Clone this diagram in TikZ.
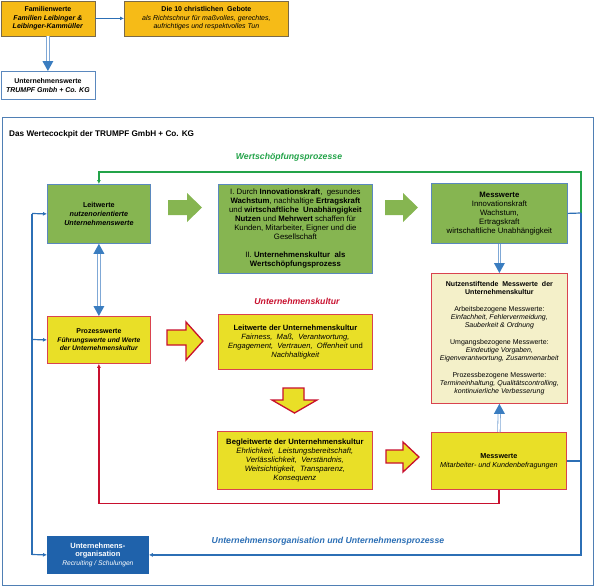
\documentclass[tikz,border=0pt]{standalone}
\usepackage{fontspec}
\setmainfont{Liberation Sans}
\usetikzlibrary{arrows.meta}
\definecolor{gfill}{HTML}{86B551}
\definecolor{yfill}{HTML}{E9DF27}
\definecolor{ofill}{HTML}{F6BB17}
\definecolor{cfill}{HTML}{F4F0C9}
\definecolor{ufill}{HTML}{1F62AB}
\definecolor{bline}{HTML}{2C6FB5}
\definecolor{frameblue}{HTML}{4F7FB4}
\definecolor{boxblue}{HTML}{5A88BE}
\definecolor{rline}{HTML}{C8102E}
\definecolor{rborder}{HTML}{D9434F}
\definecolor{gline}{HTML}{23A349}
\definecolor{darrow}{HTML}{3A7DC0}
\definecolor{lblue}{HTML}{7FA8D6}
\definecolor{gray1}{HTML}{7A6A4A}
\tikzset{
  basebox/.style={draw, line width=0.8pt, anchor=north west, inner sep=1pt, align=center,
    font=\fontsize{7}{8.4}\selectfont},
  gbox/.style={basebox, fill=gfill, draw=boxblue},
  ybox/.style={basebox, fill=yfill, draw=rborder},
  cbox/.style={basebox, fill=cfill, draw=rborder},
  obox/.style={basebox, fill=ofill, draw=gray1},
  wbox/.style={basebox, fill=white, draw=boxblue},
  ubox/.style={basebox, fill=ufill, draw=ufill, text=white},
  dblshaft/.style={draw=lblue, double=white, double distance=1.6pt, line width=0.8pt},
  dblhead/.style={fill=darrow},
  thinblue/.style={draw=bline, line width=1.2pt},
  tip/.style={-{Latex[length=4pt,width=4pt]}},
  garrow/.style={fill=gfill},
  yarrow/.style={fill=yfill, draw=rline, line width=1.3pt, line join=miter},
  heading/.style={font=\fontsize{8.7}{10}\selectfont\bfseries\itshape, inner sep=0pt},
}
\newcommand{\bi}[1]{\textbf{\textit{#1}}}
\newcommand{\smi}[1]{\textit{#1}}
\begin{document}
\begin{tikzpicture}[x=1pt,y=-1pt]
\useasboundingbox (0,0) rectangle (595,587);
% top part
\node[obox, minimum width=94pt, minimum height=35pt] (fw) at (0.5,0.5)
  {\textbf{Familienwerte}\\\bi{Familien Leibinger \&}\\\bi{Leibinger-Kammüller}};
\node[obox, minimum width=164pt, minimum height=35pt] (gb) at (124,0.5)
  {\textbf{Die 10 christlichen\ \ Gebote}\\\smi{als Richtschnur für maßvolles, gerechtes,}\\\smi{aufrichtiges und respektvolles Tun}};
\node[wbox, minimum width=94pt, minimum height=28pt] (uw) at (0.5,71)
  {\textbf{Unternehmenswerte}\\\bi{TRUMPF Gmbh + Co. KG}};
\draw[draw=bline, line width=0.9pt, tip] (fw.east) -- (gb.west);
\draw[dblshaft, shorten >=8pt] (fw.south) -- (uw.north);
\fill[dblhead] (uw.north) -- ++(-5.5,-10) -- ++(11,0) -- cycle;

% frame
\draw[frameblue, line width=1pt] (2,117) rectangle (593,585);
\node[anchor=west, inner sep=0pt, font=\fontsize{8.2}{9}\selectfont\bfseries] (title) at (9,134)
  {Das Wertecockpit der TRUMPF GmbH + Co. KG};

% boxes
\node[gbox, minimum width=103pt, minimum height=59pt, font=\fontsize{7.2}{8.6}\selectfont] (lw) at (47,184)
  {\textbf{Leitwerte}\\\bi{nutzenorientierte}\\\bi{Unternehmenswerte}};
\node[gbox, minimum width=154pt, minimum height=89pt, font=\fontsize{7.8}{9}\selectfont] (wz) at (218,184)
  {I. Durch \textbf{Innovationskraft},\ \ gesundes\\
   \textbf{Wachstum}, nachhaltige \textbf{Ertragskraft}\\
   und \textbf{wirtschaftliche\ \ Unabhängigkeit}\\
   \textbf{Nutzen} und \textbf{Mehrwert} schaffen für\\
   Kunden, Mitarbeiter, Eigner und die\\
   Gesellschaft\\[9pt]
   II. \textbf{Unternehmenskultur\ \ als}\\
   \textbf{Wertschöpfungsprozess}};
\node[gbox, minimum width=136pt, minimum height=60pt, font=\fontsize{7.8}{9}\selectfont] (mw) at (431,183)
  {\textbf{Messwerte}\\Innovationskraft\\Wachstum,\\Ertragskraft\\wirtschaftliche Unabhängigkeit};
\node[ybox, minimum width=103pt, minimum height=47pt, font=\fontsize{7}{8.4}\selectfont] (pw) at (47,316)
  {\textbf{Prozesswerte}\\{\fontsize{6.7}{8}\selectfont\bi{Führungswerte und Werte}}\\{\fontsize{6.7}{8}\selectfont\bi{der Unternehmenskultur}}};
\node[ybox, minimum width=154pt, minimum height=55pt, font=\fontsize{7.6}{9}\selectfont] (lk) at (218,314)
  {\textbf{Leitwerte der Unternehmenskultur}\\
   \textit{Fairness,\ \ Maß,\ \ Verantwortung,}\\
   \textit{Engagement,\ \ Vertrauen,\ \ Offenheit} und\\
   \textit{Nachhaltigkeit}};
\node[cbox, minimum width=136pt, minimum height=130pt, font=\fontsize{7}{8}\selectfont] (nm) at (431,273)
  {\textbf{Nutzenstiftende\ \ Messwerte\ \ der}\\\textbf{Unternehmenskultur}\\[9pt]
   Arbeitsbezogene Messwerte:\\
   \smi{Einfachheit, Fehlervermeidung,}\\\smi{Sauberkeit \& Ordnung}\\[9pt]
   Umgangsbezogene Messwerte:\\
   \smi{Eindeutige Vorgaben,}\\\smi{Eigenverantwortung, Zusammenarbeit}\\[9pt]
   Prozessbezogene Messwerte:\\
   \smi{Termineinhaltung, Qualitätscontrolling,}\\\smi{kontinuierliche Verbesserung}};
\node[ybox, minimum width=155pt, minimum height=58pt, font=\fontsize{7.7}{9}\selectfont] (bw) at (217,431)
  {\textbf{Begleitwerte der Unternehmenskultur}\\
   \textit{Ehrlichkeit,\ \ Leistungsbereitschaft,}\\
   \textit{Verlässlichkeit,\ \ Verständnis,}\\
   \textit{Weitsichtigkeit,\ \ Transparenz,}\\
   \textit{Konsequenz}};
\node[ybox, minimum width=135pt, minimum height=57pt, font=\fontsize{7.2}{9}\selectfont] (my) at (431,432)
  {\textbf{Messwerte}\\\smi{Mitarbeiter- und Kundenbefragungen}};
\node[ubox, minimum width=101pt, minimum height=37pt, font=\fontsize{7.5}{8.8}\selectfont] (uo) at (47,536)
  {\textbf{Unternehmens-}\\\textbf{organisation}\\{\fontsize{6.7}{8}\selectfont\itshape Recruiting / Schulungen}};

% headings
\node[heading, text=gline] (hw) at (289,157) {Wertschöpfungsprozesse};
\node[heading, text=rline] (hk) at (297,301) {Unternehmenskultur};
\node[heading, text=bline] (ho) at (328,541) {Unternehmensorganisation und Unternehmensprozesse};

% block arrows
\fill[garrow] (168,200) -- (187,200) -- (187,193) -- (202,207.5) -- (187,222) -- (187,215) -- (168,215) -- cycle;
\fill[garrow] (385,200) -- (403,200) -- (403,193) -- (418,207.5) -- (403,222) -- (403,215) -- (385,215) -- cycle;
\draw[yarrow] (167,330) -- (186,330) -- (186,322) -- (203,341) -- (186,360) -- (186,345) -- (167,345) -- cycle;
\draw[yarrow] (283,388) -- (304,388) -- (304,400) -- (317,400) -- (294.5,413) -- (272,400) -- (283,400) -- cycle;
\draw[yarrow] (386,450) -- (403,450) -- (403,442) -- (419,457) -- (403,472) -- (403,463) -- (386,463) -- cycle;

% double arrows
\draw[dblshaft, shorten >=8pt, shorten <=8pt] (lw.south) -- (pw.north);
\fill[dblhead] (lw.south) -- ++(-5.5,10) -- ++(11,0) -- cycle;
\fill[dblhead] (pw.north) -- ++(-5.5,-10) -- ++(11,0) -- cycle;
\draw[dblshaft, shorten >=8pt] (mw.south) -- (nm.north);
\fill[dblhead] (nm.north) -- ++(-5.5,-10) -- ++(11,0) -- cycle;
\draw[dblshaft, shorten >=8pt] (my.north) -- (nm.south);
\fill[dblhead] (nm.south) -- ++(-5.5,10) -- ++(11,0) -- cycle;

% connectors
\coordinate (j1) at (581,213);
\coordinate (gtop) at (581,172);
\draw[gline, line width=1.3pt, tip] (j1) -- (gtop) -| (lw.north);
\draw[thinblue] (mw.east) -- (j1);
\draw[thinblue, tip] (j1) |- (uo.east);
\draw[thinblue] (my.east) -- (my.east -| j1);
\draw[rline, line width=1.3pt, tip] (my.south) -- ++(0,14) -| (pw.south);
\coordinate (b1) at (32,213.5);
\coordinate (b2) at (32,339.5);
\coordinate (b3) at (32,554.5);
\draw[thinblue] (b1) -- (b3);
\draw[thinblue, tip] (b1) -- (lw.west);
\draw[thinblue, tip] (b2) -- (pw.west);
\draw[thinblue, tip] (b3) -- (uo.west);
\end{tikzpicture}
\end{document}
